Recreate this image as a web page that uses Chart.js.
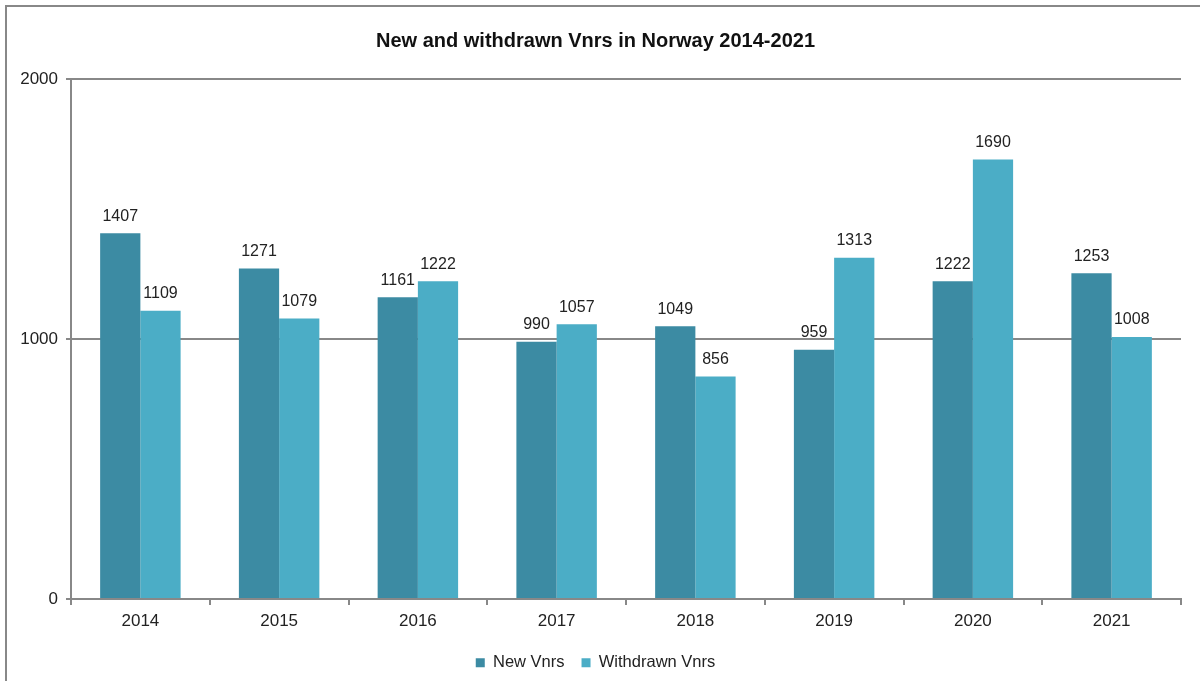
<!DOCTYPE html>
<html>
<head>
<meta charset="utf-8">
<script src="https://cdn.jsdelivr.net/npm/chart.js@4"></script>
<style>
  body { margin: 0; background: #fff; overflow: hidden; }
  #wrap { position: absolute; left: 0; top: 0; width: 1200px; height: 681px; }
  #frame { position: absolute; left: 5px; top: 5px; width: 1210px; height: 700px;
           border: 2px solid #888; box-sizing: border-box; pointer-events: none; }
</style>
</head>
<body>
<div id="wrap">
  <canvas id="myChart" width="1200" height="681"></canvas>
  <div id="frame"></div>
</div>
<script>
  const years = ['2014', '2015', '2016', '2017', '2018', '2019', '2020', '2021'];
  const newVnrs = [1407, 1271, 1161, 990, 1049, 959, 1222, 1253];
  const withdrawnVnrs = [1109, 1079, 1222, 1057, 856, 1313, 1690, 1008];
  const yTicks = [0, 1000, 2000];

  const ctx = document.getElementById('myChart');

  // value labels above each bar
  const barLabels = {
    id: 'barLabels',
    afterDatasetsDraw(chart) {
      const c = chart.ctx;
      c.save();
      c.font = '16px "Liberation Sans", Arial, sans-serif';
      c.fillStyle = '#222';
      c.textAlign = 'center';
      c.textBaseline = 'bottom';
      chart.data.datasets.forEach((ds, i) => {
        chart.getDatasetMeta(i).data.forEach((bar, j) => {
          c.fillText(ds.data[j], bar.x, bar.y - 9);
        });
      });
      c.restore();
    }
  };

  new Chart(ctx, {
    type: 'bar',
    data: {
      labels: years,
      datasets: [{
        label: 'New Vnrs',
        data: newVnrs,
        backgroundColor: '#3c8ba3'
      }, {
        label: 'Withdrawn Vnrs',
        data: withdrawnVnrs,
        backgroundColor: '#4badc6'
      }]
    },
    options: {
      responsive: false,
      animation: false,
      datasets: { bar: { barPercentage: 1, categoryPercentage: 0.58 } },
      layout: { padding: { left: 10, right: 19, top: 0, bottom: 0 } },
      plugins: {
        title: {
          display: true,
          text: 'New and withdrawn Vnrs in Norway 2014-2021',
          color: '#111',
          font: { family: '"Liberation Sans Narrow", "Arial Narrow", "Liberation Sans", sans-serif', size: 20, weight: 'bold' },
          padding: { top: 29, bottom: 26 }
        },
        legend: {
          position: 'bottom',
          labels: {
            color: '#222',
            font: { family: '"Liberation Sans", Arial, sans-serif', size: 16.5 },
            boxWidth: 9,
            boxHeight: 9,
            padding: 17
          }
        },
        tooltip: { enabled: false }
      },
      scales: {
        x: {
          grid: { drawOnChartArea: false, drawTicks: true, tickLength: 6, offset: true, color: '#888', lineWidth: 2 },
          border: { color: '#888', width: 2 },
          ticks: { color: '#222', font: { family: '"Liberation Sans", Arial, sans-serif', size: 17 }, padding: 6 }
        },
        y: {
          min: 0,
          max: 2000,
          afterBuildTicks: (scale) => { scale.ticks = yTicks.map(v => ({ value: v })); },
          afterFit: (scale) => { scale.width = 61; },
          grid: { color: '#888', lineWidth: 2, tickLength: 5 },
          border: { color: '#888', width: 2 },
          ticks: {
            color: '#222',
            font: { family: '"Liberation Sans", Arial, sans-serif', size: 17 },
            padding: 8,
            callback: (v) => String(v)
          }
        }
      }
    },
    plugins: [barLabels]
  });
</script>
</body>
</html>
